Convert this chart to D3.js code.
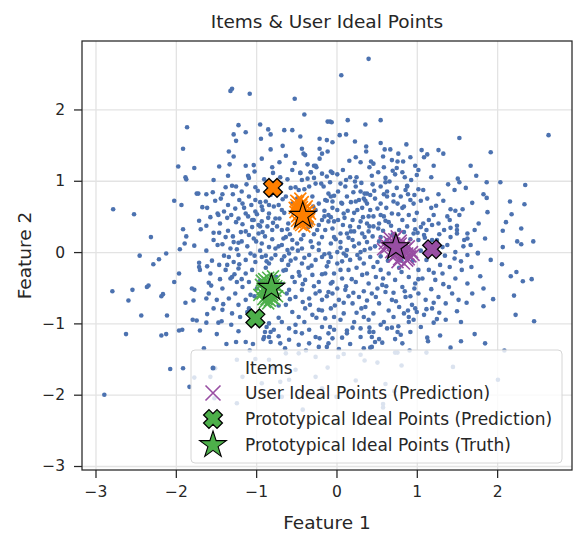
<!DOCTYPE html>
<html>
<head>
<meta charset="utf-8">
<script src="https://d3js.org/d3.v7.min.js"></script>
<style>
  body { margin: 0; background: #fff; }
  svg text { font-family: "DejaVu Sans", sans-serif; fill: #262626; }
  .grid line { stroke: #e3e3e3; stroke-width: 1.3; }
  .grid path { stroke: none; }
  .axis path { stroke: none; }
  .axis line { stroke: #262626; stroke-width: 1.25; }
</style>
</head>
<body>
<div id="plot"></div>
<script>
// item positions (Feature 1, Feature 2)
var items = [
 [-1.32,2.26],[-1.30,2.29],[-1.08,2.22],[-0.52,2.15],[-0.40,1.93],[-0.11,1.83],[-0.08,1.83],[-1.86,1.75],[-1.22,1.78],[-0.95,1.79],
 [-1.13,1.68],[-1.28,1.65],[-0.85,1.72],[-0.82,1.65],[-0.65,1.71],[-0.55,1.71],[-0.45,1.62],[-0.21,1.59],[-1.25,1.56],[-0.94,1.59],
 [-1.91,1.45],[-0.82,1.44],[-0.43,1.45],[-0.41,1.38],[-0.39,1.36],[-0.21,1.45],[-0.18,1.38],[-0.11,1.41],[-0.63,1.35],[-1.28,1.34],
 [-0.71,1.26],[-1.97,1.20],[-1.77,1.18],[-1.46,1.20],[-1.33,1.23],[-1.03,1.22],[-0.80,1.19],[-0.36,1.23],[-0.28,1.21],[-0.25,1.19],
 [-0.45,1.11],[-0.32,1.12],[-1.88,1.05],[-1.87,1.02],[-1.35,1.07],[-1.10,1.07],[-1.09,1.04],[-1.30,0.93],[-1.25,0.92],[-1.01,0.91],
 [-1.74,0.82],[-1.72,0.82],[-1.62,0.81],[-1.54,0.84],[-2.02,0.72],[-1.93,0.66],[-2.78,0.60],[-2.52,0.53],[-1.71,0.44],[-1.57,0.49],
 [-1.62,0.37],[-1.91,0.32],[-1.87,0.22],[-1.77,0.09],[-1.95,0.04],[-2.12,-0.02],
 [-1.44,0.75],[-1.42,0.81],[-1.35,0.66],[-1.29,0.81],[-1.48,0.54],[-1.47,0.52],[-1.40,0.57],[-1.31,0.52],[-1.13,0.54],[-1.10,0.50],
 [-1.03,0.45],[-1.01,0.57],[-0.93,0.64],[-0.84,0.66],[-0.78,0.64],
 [-1.53,0.27],[-1.46,0.27],[-1.38,0.21],[-1.28,0.14],[-1.22,0.13],[-1.53,0.17],[-1.42,0.11],[-1.32,0.05],[-1.24,0.04],[-1.13,0.29],
 [-1.09,0.24],[-1.03,0.19],[-0.97,0.26],[-0.86,0.36],[-0.80,0.31],[-0.74,0.36],[-0.68,0.31],[-0.63,0.21],[-0.93,0.12],[-0.84,0.07],
 [-0.76,0.05],[-0.68,0.10],[-0.61,0.03],[-0.55,0.17],[-0.49,0.12],[-0.43,0.05],[-0.30,0.07],[-0.22,0.12],[-0.18,0.21],[-0.14,0.31],
 [-0.10,0.43],[-0.18,0.45],[-0.26,0.59],[-0.22,0.68],[-0.14,0.73],[-0.10,0.82],[-0.16,0.92],[-0.26,0.96],[-0.34,0.92],[-0.43,1.01],
 [-0.18,1.10],[-0.12,1.06],[-0.07,1.13],[-0.26,1.21],[-0.32,1.12],[-0.45,1.11],[-0.57,0.90],[-0.47,0.87],[-0.49,0.75],[-0.63,0.78],
 [-0.72,0.66],[-0.68,0.59],[-0.84,0.54],[-0.76,0.47],[-0.93,0.43],[-1.09,0.78],[-1.01,0.73],[-1.17,0.68],[-1.26,0.61],[-1.22,0.47],
 [-1.05,0.45],[-0.97,0.38],
 [0.40,2.71],[0.06,2.48],[0.14,1.85],[0.55,1.85],[0.36,1.79],[-0.06,1.82],[2.64,1.64],[1.53,1.60],[0.04,1.64],[0.12,1.65],
 [-0.12,1.57],[-0.05,1.54],[1.92,1.40],[0.37,1.48],[0.37,1.41],[0.55,1.53],[0.60,1.44],[0.67,1.44],[0.77,1.38],[0.92,1.33],
 [1.06,1.43],[1.13,1.37],[1.09,1.33],[1.27,1.43],[1.33,1.38],[0.24,1.33],[0.30,1.26],[0.43,1.27],[0.46,1.24],[0.58,1.34],
 [0.59,1.19],[0.76,1.27],[0.83,1.27],[0.75,1.18],[0.70,1.14],[0.73,1.09],[0.82,1.12],[0.61,1.04],[0.44,1.07],[1.02,1.15],
 [1.00,1.08],[0.01,1.09],[-0.05,1.11],[0.17,1.05],[0.23,0.99],[1.74,1.07],[1.51,1.03],[1.53,0.98],[1.61,0.90],[1.47,0.87],
 [1.87,0.98],[2.04,0.98],[2.35,0.94],[1.83,0.81],[1.87,0.76],[2.16,0.71],[2.34,0.67],[1.69,0.69],[1.88,0.56],[2.18,0.53],
 [1.77,0.40],[2.30,0.33],[2.07,0.30],[2.25,0.15],[2.30,0.11],[2.07,0.07],[0.88,0.93],[0.86,0.87],[0.97,0.80],[1.08,0.87],
 [1.13,0.75],[1.24,0.65],[1.42,0.60],[1.48,0.58],[1.57,0.60],[1.38,0.50],[1.08,0.40],[1.19,0.38],[1.27,0.40],[1.34,0.31],
 [1.42,0.34],[1.50,0.37],[1.50,0.31],[1.63,0.26],[1.63,0.19],[1.12,0.31],[1.09,0.24],[0.98,0.32],[1.48,0.00],[1.38,0.10],[1.76,-0.01],
 [0.05,0.96],[0.11,0.92],[0.24,0.92],[0.30,0.85],[0.38,0.82],[0.34,0.75],[0.42,0.80],[0.28,0.73],[0.13,0.78],[0.07,0.68],
 [-0.05,0.71],[-0.07,0.78],[0.01,0.59],[0.09,0.54],[0.20,0.45],[0.30,0.43],[0.38,0.40],[0.26,0.59],[0.42,0.59],[0.51,0.61],
 [0.55,0.68],[0.63,0.78],[0.71,0.80],[0.76,0.68],[0.80,0.78],[0.84,0.64],[0.90,0.52],[0.92,0.73],[0.96,0.68],[0.69,0.54],
 [0.59,0.50],[0.53,0.40],[0.46,0.36],[0.40,0.29],[0.32,0.26],[0.22,0.29],[0.13,0.26],[0.05,0.26],[-0.03,0.21],[-0.07,0.12],
 [0.05,0.14],[0.20,0.17],[0.28,0.12],[0.38,0.14],[0.42,0.05],[0.30,0.00],[0.13,0.03],[0.01,0.00],[0.55,0.21],[0.63,0.17],
 [0.71,0.24],[0.78,0.31],[0.88,0.36],[0.96,0.26],[1.02,0.17],[1.13,0.12],[1.25,0.17],[1.32,0.07],[1.42,0.21],[1.50,0.26],
 [1.59,0.17],[1.67,0.10],[0.55,0.92],[0.63,0.85],[0.88,0.92],[0.38,0.68],[0.46,0.50],[0.17,0.36],[-0.03,0.43],[-0.10,0.52],
 [-2.79,-0.55],[-2.54,-0.53],[-2.59,-0.68],[-2.43,-0.89],[-2.62,-1.15],[-2.18,-1.17],[-2.12,-1.15],[-2.36,-0.49],[-2.34,-0.47],[-2.16,-0.59],
 [-2.18,-0.62],[-2.11,-0.89],[-2.28,-0.17],[-2.21,-0.10],[-1.96,-0.30],[-1.80,-0.51],[-1.77,-0.53],[-1.78,-0.68],[-1.79,-0.95],[-1.74,-0.96],
 [-1.61,-0.87],[-1.62,-0.99],[-1.96,-1.10],[-1.92,-1.09],[-1.70,-1.10],[-1.49,-1.15],[-1.47,-0.99],[-1.43,-0.97],[-2.07,-1.64],[-1.91,-1.63],
 [-2.89,-2.00],[-1.51,-1.63],[-1.57,-1.75],[-1.77,-1.76],[-1.83,-1.89],[-1.71,-0.15],[-1.71,-0.21],[-1.61,-0.20],[-1.70,-0.25],[-1.59,-0.43],
 [-1.56,-0.47],[-1.22,-1.11],[-1.13,-1.26],[-1.25,-1.26],[-1.04,-1.29],[-0.89,-1.12],[-0.82,-1.12],[-0.91,-1.22],[-0.84,-1.19],
 [-1.34,-0.07],[-1.28,-0.14],[-1.22,-0.04],[-1.13,-0.11],[-1.07,-0.02],[-1.01,-0.14],[-0.93,-0.07],[-0.84,-0.16],[-0.76,-0.04],[-0.68,-0.11],
 [-0.59,-0.02],[-0.51,-0.09],[-0.43,-0.16],[-0.34,-0.04],[-0.26,-0.11],[-0.18,-0.07],[-0.10,-0.14],[-1.38,-0.25],[-1.30,-0.35],[-1.22,-0.23],
 [-1.13,-0.30],[-1.09,-0.42],[-1.17,-0.49],[-1.26,-0.58],[-1.34,-0.65],[-1.22,-0.74],[-1.13,-0.67],[-1.07,-0.60],[-1.30,-0.86],[-1.20,-0.91],
 [-1.09,-0.79],[-0.63,-0.25],[-0.55,-0.35],[-0.47,-0.28],[-0.39,-0.39],[-0.30,-0.32],[-0.22,-0.42],[-0.14,-0.30],[-0.07,-0.44],[-0.59,-0.53],
 [-0.51,-0.63],[-0.43,-0.53],[-0.34,-0.65],[-0.26,-0.58],[-0.18,-0.67],[-0.10,-0.56],[-0.63,-0.74],[-0.55,-0.84],[-0.47,-0.91],[-0.39,-0.79],
 [-0.30,-0.88],[-0.22,-0.81],[-0.14,-0.93],[-0.07,-0.79],[-0.68,-0.98],[-0.59,-1.07],[-0.51,-1.02],[-0.43,-1.14],[-0.34,-1.09],[-0.26,-1.19],
 [-0.18,-1.05],[-0.10,-1.14],[-0.84,-1.00],[-0.78,-1.09],[-0.90,-1.19],[-0.82,-1.26],[-0.70,-1.28],[-0.59,-1.23],[-0.47,-1.30],[-0.34,-1.28],
 [-0.22,-1.33],[-0.10,-1.28],[-1.36,-0.18],[-1.32,-0.37],[-1.24,-0.42],[-1.42,-0.51],[-1.49,-0.67],[-1.53,-0.79],[-1.42,-0.81],[-1.59,-0.58],
 [-1.57,-0.30],[-1.24,-1.51],[-1.01,-1.50],[-1.24,-2.12],[-0.70,-1.82],[-0.59,-1.79],[-0.26,-1.75],[-0.84,-1.51],[-0.63,-1.42],[-0.47,-1.42],
 [-0.26,-1.47],[-0.93,-1.84],[-1.17,-1.75],[-0.68,-2.03],[-0.34,-1.98],[-0.18,-1.91],[-0.51,-1.65],
 [2.06,-0.17],[2.17,-0.34],[2.24,-0.28],[2.32,-0.41],[2.43,-0.38],[1.95,-0.66],[2.23,-0.88],[2.46,-0.97],[1.83,-0.76],[1.62,-0.71],
 [1.50,-0.83],[1.72,-1.15],[1.85,-1.28],[1.55,-1.25],[1.42,-1.34],[1.29,-1.17],[1.13,-1.20],[1.14,-1.25],[2.09,-1.38],[2.01,-1.79],
 [1.21,-0.99],[1.25,-0.94],[1.68,-0.21],[1.79,-0.34],[1.55,-0.13],[1.63,-0.04],[1.76,-0.02],[0.90,-0.98],[0.90,-0.91],[1.00,-0.84],
 [0.98,-0.79],[0.77,-1.04],[0.76,-1.12],[0.69,-1.06],[0.73,-1.22],[0.53,-1.22],[0.57,-1.27],[0.44,-1.33],[0.42,-1.34],[0.41,-1.06],
 [0.41,-1.12],[0.44,-1.19],[0.30,-1.07],[0.20,-1.06],[0.13,-1.10],[0.07,-1.20],[0.03,-1.36],[-0.08,-1.05],[-0.12,-1.33],[0.02,-1.47],
 [0.30,-1.44],[0.35,-1.52],[0.73,-1.41],[0.76,-1.41],[0.81,-1.59],[0.24,-1.80],[0.61,-1.85],[0.58,-2.13],[0.58,-2.18],[0.00,-2.03],
 [-0.07,-0.07],[0.01,-0.16],[0.09,-0.02],[0.17,-0.11],[0.26,-0.04],[0.34,-0.16],[0.42,-0.07],[0.51,-0.14],[-0.03,-0.30],[0.07,-0.37],
 [0.15,-0.25],[0.24,-0.42],[0.32,-0.32],[0.40,-0.44],[0.49,-0.35],[0.57,-0.46],[0.65,-0.30],[0.73,-0.39],[0.82,-0.49],[0.90,-0.35],
 [0.98,-0.44],[1.07,-0.37],[1.15,-0.25],[1.23,-0.39],[1.32,-0.30],[1.40,-0.49],[1.48,-0.37],[1.56,-0.25],[1.63,-0.44],[-0.05,-0.58],
 [0.03,-0.67],[0.11,-0.53],[0.20,-0.72],[0.28,-0.63],[0.36,-0.77],[0.44,-0.58],[0.53,-0.72],[0.61,-0.56],[0.69,-0.67],[0.78,-0.77],
 [0.86,-0.63],[0.94,-0.74],[1.02,-0.58],[1.11,-0.67],[1.19,-0.79],[1.27,-0.63],[1.36,-0.72],[1.44,-0.58],[1.52,-0.67],[-0.03,-0.91],
 [0.09,-0.86],[0.22,-0.98],[0.34,-0.91],[0.46,-0.86],[0.59,-0.98],[0.71,-0.91],[0.84,-0.86],[0.96,-0.95],[1.09,-0.88],[-0.03,-1.09],
 [0.13,-1.14],[0.30,-1.19],[0.46,-1.12],[0.63,-1.07],[0.80,-1.16],
 [-0.95,0.02],[-0.88,-0.05],[-0.72,0.08],[-0.65,-0.06],[-0.48,0.02],[-0.40,-0.08],[-0.22,0.03],[-0.15,-0.03],[0.05,0.06],[0.12,-0.05],
 [0.22,0.08],[0.35,0.03],[0.48,0.08],[0.55,-0.06],[0.62,0.15],[0.88,0.05],[0.95,-0.12],[1.05,0.02],[1.22,0.08],[1.35,-0.05],
 [-1.05,0.35],[-0.92,0.28],[-0.60,0.40],[-0.35,0.35],[-0.28,0.25],[-0.05,0.33],[0.08,0.38],[0.15,0.20],[0.28,0.35],[0.45,0.22],
 [0.58,0.30],[0.65,0.42],[0.82,0.45],[1.05,0.35],[1.15,0.45],[1.28,0.25],[-1.15,0.62],[-0.95,0.70],[-0.82,0.80],[-0.55,0.68],
 [-0.30,0.78],[-0.05,0.62],[0.02,0.85],[0.18,0.70],[0.32,0.62],[0.48,0.75],[0.62,0.62],[0.75,0.90],[1.02,0.88],[1.18,0.62],
 [-1.45,0.40],[-1.35,0.30],[-1.25,0.42],[-1.18,0.15],[-1.40,-0.05],[-1.48,0.10],[-1.62,0.02],[-1.55,-0.12],[-1.05,-0.25],[-0.95,-0.40],
 [-0.88,-0.22],[-0.75,-0.35],[-0.60,-0.18],[-0.52,-0.42],[-0.35,-0.22],[-0.28,-0.48],[-0.12,-0.20],[-0.05,-0.42],[0.05,-0.25],[0.12,-0.48],
 [0.25,-0.22],[0.38,-0.30],[0.55,-0.25],[0.62,-0.48],[0.78,-0.22],[0.85,-0.55],[1.02,-0.25],[1.18,-0.52],[-1.02,-0.62],[-0.72,-0.75],
 [-0.62,-0.58],[-0.42,-0.70],[-0.18,-0.82],[-0.02,-0.75],[0.15,-0.62],[0.25,-0.85],[0.38,-0.68],[0.65,-0.82],[0.92,-0.62],[1.12,-0.80],
 [-0.98,-0.95],[-0.72,-0.92],[-0.40,-0.98],[-0.25,-0.92],[0.05,-0.95],[0.40,-0.95],[0.55,-1.02],[1.05,-1.05],[-0.70,1.05],[-0.55,1.15],
 [-0.08,0.98],[0.08,1.15],[0.25,1.05],[0.45,0.95],[0.52,1.12],[0.85,1.05],[-0.90,1.02],[-1.18,0.85],[-1.00,0.15],[-0.80,0.18],
 [-0.58,0.25],[-0.32,0.15],[-0.15,0.50],[0.10,0.48],[0.40,0.50],[0.70,0.25],[0.92,0.18],[1.10,0.20],[-0.85,0.48],[-0.65,0.55],
 [-0.12,0.72],[0.22,0.55],[0.55,0.52],[0.82,0.62],[1.00,0.55],[0.35,0.82],[-0.40,0.88],[-0.55,0.05],
 [-1.12,0.95],[-0.98,0.86],[-0.74,0.93],[-0.61,1.02],[-0.36,1.03],[-0.19,0.96],[0.12,1.01],[0.31,0.97],[0.66,0.99],[0.93,1.01],
 [-1.21,0.73],[-1.06,0.66],[-0.88,0.71],[-0.67,0.74],[-0.43,0.69],[-0.29,0.64],[-0.03,0.79],[0.21,0.84],[0.47,0.86],[0.71,0.71],
 [1.05,0.72],[1.27,0.81],[-1.36,0.48],[-1.17,0.39],[-0.99,0.53],[-0.71,0.47],[-0.22,0.38],[-0.07,0.49],[0.14,0.58],[0.33,0.49],
 [0.61,0.44],[0.77,0.53],[0.97,0.45],[1.21,0.52],[-1.29,0.22],[-1.11,0.08],[-0.89,0.22],[-0.66,0.19],[-0.41,0.24],[-0.24,0.31],
 [-0.01,0.18],[0.18,0.29],[0.35,0.21],[0.52,0.33],[0.68,0.37],[0.84,0.28],[1.01,0.27],[1.19,0.17],[-1.46,-0.18],[-1.27,-0.31],
 [-1.02,-0.05],[-0.81,-0.09],[-0.57,-0.12],[-0.31,-0.19],[-0.09,-0.02],[0.07,-0.13],[0.29,-0.09],[0.46,-0.21],[0.64,-0.12],[0.81,-0.28],
 [1.12,-0.11],[1.29,-0.18],[1.47,-0.09],[-1.18,-0.38],[-0.99,-0.51],[-0.69,-0.45],[-0.46,-0.33],[-0.21,-0.55],[0.01,-0.51],[0.19,-0.38],
 [0.34,-0.55],[0.51,-0.51],[0.71,-0.57],[0.97,-0.51],[1.33,-0.45],[-1.41,-0.73],[-1.11,-0.84],[-0.58,-0.66],[-0.33,-0.74],[-0.12,-0.62],
 [0.09,-0.71],[0.31,-0.79],[0.49,-0.63],[0.74,-0.69],[0.89,-0.82],[1.21,-0.71],[-0.87,-1.05],[-0.51,-1.12],[-0.21,-1.21],[0.17,-1.29],
 [0.48,-1.26],[0.92,-1.12],[-0.64,-1.35],[-0.38,-1.38],[0.09,-1.43],[-0.92,0.59],[-0.51,0.91],[0.02,0.45],[0.24,0.71],[0.59,0.81],
 [-0.69,0.96],[-0.21,1.31],[0.16,1.28],[0.41,1.19],[0.69,1.29],[-0.52,1.25],[-0.93,1.31],[-1.13,1.21],[0.98,1.21],[1.18,1.05],
 [1.39,0.95],[1.33,0.72],[1.41,0.45],[1.53,0.52],[1.72,0.31],[1.85,0.19],[1.92,-0.11],[1.83,-0.51],[1.69,-0.58],[1.36,-0.95],
 [1.55,-0.98],[1.12,-1.41],[0.91,-1.38],[0.51,-1.55],[-0.11,-1.62],[-0.79,-1.63],[-1.08,-1.38],[-1.37,-1.29],[-1.65,-1.35],[-1.88,-0.71],
 [-2.02,-0.42],[-1.89,0.12],[-2.31,0.21],[-2.45,-0.05],[-1.67,0.63],[-1.53,1.01],[-1.61,0.62],[-1.34,1.41],[-0.67,1.49],[0.23,1.55],
 [0.87,1.51],[1.21,1.21],[1.67,1.21],[2.11,0.42],[2.45,0.15],[2.21,-0.61],[1.45,-1.61],[0.72,-1.95],[-0.42,-2.21],[-1.52,-2.05],
 [-0.15,0.58],[-0.44,0.18],[-0.61,0.32],[-0.79,0.41],[-0.95,0.36],[-1.19,0.28],[-0.31,0.41],[0.41,0.36],[0.53,0.15],[0.75,0.09],
 [-0.18,-0.31],[-0.42,-0.45],[-0.66,-0.26],[-0.87,-0.13],[-1.21,-0.17],[0.21,-0.57],[0.58,-0.37],[0.81,-0.12],[1.02,-0.38],[1.21,-0.29],
 [-0.28,1.04],[0.06,0.69],[0.36,0.72],[0.61,0.98],[0.89,0.81],[-0.79,1.11],[-1.02,1.13],[-1.38,0.91],[-1.51,0.72],[-1.69,0.32],
 [-1.45,-0.38],[-1.62,-0.65],[-1.31,-1.02],[-0.72,-1.18],[-0.05,-1.21],[0.34,-1.35],[0.82,-1.28],[1.28,-0.85],[1.41,-0.21],[1.58,0.08]
];

// user ideal points (prediction), one group per prototype
var usersOrange = [
 [-0.42,0.52],[-0.45,0.55],[-0.40,0.48],[-0.47,0.60],[-0.38,0.56],[-0.44,0.45],[-0.49,0.50],[-0.36,0.50],[-0.43,0.63],[-0.41,0.42],
 [-0.50,0.66],[-0.46,0.40],[-0.34,0.46],[-0.39,0.60],[-0.48,0.70],[-0.44,0.38],[-0.37,0.64],[-0.51,0.56],[-0.40,0.54],[-0.46,0.48],
 [-0.33,0.54],[-0.42,0.70],[-0.49,0.44],[-0.45,0.75],[-0.38,0.42],[-0.52,0.62],[-0.35,0.58],[-0.43,0.58],[-0.47,0.52],[-0.40,0.36],
 [-0.50,0.72],[-0.36,0.44],[-0.44,0.66],[-0.41,0.58],[-0.48,0.64]
];
var usersPurple = [
 [0.74,0.07],[0.78,0.02],[0.70,0.10],[0.82,-0.04],[0.66,0.14],[0.86,0.04],[0.78,-0.10],[0.72,0.18],[0.88,-0.12],[0.62,0.06],
 [0.92,-0.06],[0.80,0.12],[0.68,0.00],[0.75,0.22],[0.90,0.08],[0.60,0.12],[0.84,-0.16],[0.94,0.00],[0.72,-0.06],[0.80,0.16],
 [0.66,0.20],[0.86,0.10],[0.76,-0.14],[0.96,-0.04],[0.58,0.04],[0.84,0.00],[0.76,0.04],[0.70,0.02],[0.82,0.06],[0.88,-0.02],
 [0.74,-0.02],[0.64,0.08],[0.90,-0.10],[0.78,0.10],[0.72,0.12]
];
var usersGreen = [
 [-0.81,-0.50],[-0.84,-0.55],[-0.78,-0.46],[-0.86,-0.42],[-0.80,-0.60],[-0.88,-0.62],[-0.90,-0.50],[-0.76,-0.54],[-0.85,-0.36],[-0.83,-0.68],
 [-0.92,-0.58],[-0.77,-0.40],[-0.89,-0.70],[-0.82,-0.58],[-0.79,-0.34],[-0.94,-0.46],[-0.74,-0.62],[-0.87,-0.48],[-0.80,-0.52],[-0.91,-0.66],
 [-0.75,-0.48],[-0.93,-0.40],[-0.85,-0.72],[-0.78,-0.66],[-0.86,-0.56],[-0.96,-0.60],[-0.83,-0.44],[-0.88,-0.54],[-0.81,-0.64],[-0.90,-0.38],
 [-0.72,-0.50],[-0.84,-0.62],[-0.87,-0.66],[-0.79,-0.56],[-0.92,-0.52]
];

var groupColors = ["#ff7f00", "#984ea3", "#4daf4a"];
var protoPred = [[-0.79,0.90],[1.19,0.04],[-1.01,-0.93]];
var protoTruth = [[-0.42,0.51],[0.74,0.07],[-0.81,-0.50]];

var xTicks = [-3,-2,-1,0,1,2];
var yTicks = [-3,-2,-1,0,1,2];
var legendLabels = ["Items", "User Ideal Points (Prediction)",
  "Prototypical Ideal Points (Prediction)", "Prototypical Ideal Points (Truth)"];

var W = 584, H = 546;
var margin = {top:41, right:12, bottom:76, left:82},
    width = W - margin.left - margin.right,
    height = H - margin.top - margin.bottom;

var svg = d3.select("#plot").append("svg")
    .attr("width", W).attr("height", H)
  .append("g")
    .attr("transform", "translate(" + margin.left + "," + margin.top + ")");

var x = d3.scaleLinear().domain([-3.168, 2.932]).range([0, width]);
var y = d3.scaleLinear().domain([-3.056, 2.96]).range([height, 0]);

// grid
svg.append("g").attr("class","grid")
   .attr("transform","translate(0,"+height+")")
   .call(d3.axisBottom(x).tickValues(xTicks).tickSize(-height).tickFormat(""));
svg.append("g").attr("class","grid")
   .call(d3.axisLeft(y).tickValues(yTicks).tickSize(-width).tickFormat(""));

var minus = function(d){ return d < 0 ? "\u2212" + Math.abs(d) : "" + d; };

// axes
var xAxis = svg.append("g").attr("class","axis")
   .attr("transform","translate(0,"+height+")")
   .call(d3.axisBottom(x).tickValues(xTicks).tickSize(8).tickPadding(8).tickFormat(minus));
xAxis.selectAll("text").style("font-size","15.5px");
var yAxis = svg.append("g").attr("class","axis")
   .call(d3.axisLeft(y).tickValues(yTicks).tickSize(8).tickPadding(9).tickFormat(minus));
yAxis.selectAll("text").style("font-size","15.5px");

// items
svg.append("g").selectAll("circle")
   .data(items).enter().append("circle")
   .attr("cx", function(d){ return x(d[0]); })
   .attr("cy", function(d){ return y(d[1]); })
   .attr("r", 2.3)
   .style("fill", "#4c72b0");

// marker shapes
function starPath(R) {
  var r = R * 0.382, p = d3.path();
  for (var i = 0; i < 10; i++) {
    var a = -Math.PI/2 + i * Math.PI/5, rr = i % 2 ? r : R;
    if (i === 0) p.moveTo(rr*Math.cos(a), rr*Math.sin(a)); else p.lineTo(rr*Math.cos(a), rr*Math.sin(a));
  }
  p.closePath();
  return p.toString();
}
function fatXPath(s) {
  var a = s * 0.5, b = s * 0.2;
  var pts = [[-b,-a],[b,-a],[b,-b],[a,-b],[a,b],[b,b],[b,a],[-b,a],[-b,b],[-a,b],[-a,-b],[-b,-b]];
  var c = Math.SQRT1_2;
  return "M" + pts.map(function(q){ return [(q[0]-q[1])*c, (q[0]+q[1])*c].join(","); }).join("L") + "Z";
}
function thinX(g, s, color) {
  g.append("path").attr("d", "M"+(-s)+","+(-s)+"L"+s+","+s+"M"+(-s)+","+s+"L"+s+","+(-s))
   .style("stroke", color).style("stroke-width", 1.6).style("fill","none");
}

// user ideal points
[usersOrange, usersPurple, usersGreen].forEach(function(grp, gi) {
  var g = svg.append("g");
  grp.forEach(function(d) {
    var m = g.append("g").attr("transform","translate("+x(d[0])+","+y(d[1])+")");
    thinX(m, 6, groupColors[gi]);
  });
});

// prototypical predictions
svg.append("g").selectAll("path")
   .data(protoPred).enter().append("path")
   .attr("transform", function(d){ return "translate("+x(d[0])+","+y(d[1])+")"; })
   .attr("d", fatXPath(19))
   .style("fill", function(d,i){ return groupColors[i]; })
   .style("stroke", "#000").style("stroke-width", 1.3);

// prototypical truth
svg.append("g").selectAll("path")
   .data(protoTruth).enter().append("path")
   .attr("transform", function(d){ return "translate("+x(d[0])+","+y(d[1])+")"; })
   .attr("d", starPath(14))
   .style("fill", function(d,i){ return groupColors[i]; })
   .style("stroke", "#000").style("stroke-width", 1.1);

// frame
svg.append("rect").attr("width", width).attr("height", height)
   .style("fill","none").style("stroke","#262626").style("stroke-width",1.25);

// labels
svg.append("text").attr("x", width/2).attr("y", -13)
   .attr("text-anchor","middle").style("font-size","18.5px").text("Items & User Ideal Points");
svg.append("text").attr("x", width/2).attr("y", height + 59)
   .attr("text-anchor","middle").style("font-size","18.5px").text("Feature 1");
svg.append("text").attr("transform","rotate(-90)")
   .attr("x", -height/2).attr("y", -51)
   .attr("text-anchor","middle").style("font-size","18.5px").text("Feature 2");

// legend
var lg = svg.append("g").attr("transform","translate(" + (191-margin.left) + "," + (350-margin.top) + ")");
lg.append("rect").attr("width", 371).attr("height", 113).attr("rx", 4)
  .style("fill","#fff").style("fill-opacity",0.8).style("stroke","#d6d6d6").style("stroke-width",1);
var rowY = [18, 43, 69, 95];
lg.append("circle").attr("cx", 22).attr("cy", rowY[0]).attr("r", 2.5).style("fill","#4c72b0");
thinX(lg.append("g").attr("transform","translate(22,"+rowY[1]+")"), 7.5, groupColors[1]);
lg.append("path").attr("transform","translate(22,"+rowY[2]+")").attr("d", fatXPath(19))
  .style("fill", groupColors[2]).style("stroke","#000").style("stroke-width",1.3);
lg.append("path").attr("transform","translate(22,"+rowY[3]+")").attr("d", starPath(14))
  .style("fill", groupColors[2]).style("stroke","#000").style("stroke-width",1.1);
lg.selectAll("text.lab").data(legendLabels).enter().append("text")
  .attr("class","lab")
  .attr("x", 54).attr("y", function(d,i){ return rowY[i]; })
  .attr("dy","0.36em").style("font-size","17px")
  .text(function(d){ return d; });
</script>
</body>
</html>
